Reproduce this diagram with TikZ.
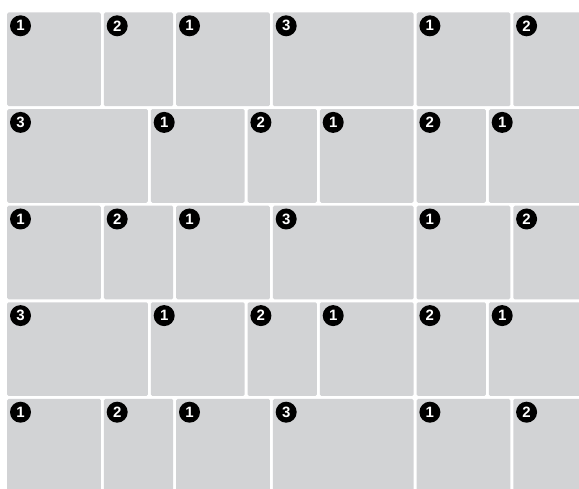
\documentclass[tikz,border=0pt]{standalone}
\usepackage{fontspec}
\setmainfont{Liberation Sans}
\usetikzlibrary{positioning}
\definecolor{paver}{HTML}{D2D3D5}

\begin{document}
\begin{tikzpicture}[x=1pt,y=-1pt, every node/.style={font=\bfseries\fontsize{15}{15}\selectfont},
tile/.style={fill=paver,rounded corners=1.5pt,anchor=north west,inner sep=0pt,minimum height=93.7pt},
badge/.style={circle,fill=black,text=white,inner sep=0pt,minimum size=21pt}]
\useasboundingbox (0,0) rectangle (579,489);
\clip (0,0) rectangle (579,489);
\foreach \r in {1,...,5}{
  \pgfmathsetmacro{\ty}{12.3+96.6*(\r-1)}
  \ifodd\r \def\pattern{1/7,2/103.7,1/176,3/272.7,1/416.4,2/513.1}
  \else \def\pattern{3/7,1/150.7,2/247.4,1/319.7,2/416.4,1/488.7}\fi
  \foreach \n/\x [count=\c] in \pattern {
    \pgfmathsetmacro{\w}{(\n==1)*93.7+(\n==2)*69.3+(\n==3)*140.7}
    \node[tile,minimum width=\w pt] (tile\r-\c) at (\x,\ty) {};
    \node[badge] (num\r-\c) at ([shift={(13.5pt,-13.5pt)}]tile\r-\c.north west) {\n};
  }
}
\end{tikzpicture}
\end{document}
